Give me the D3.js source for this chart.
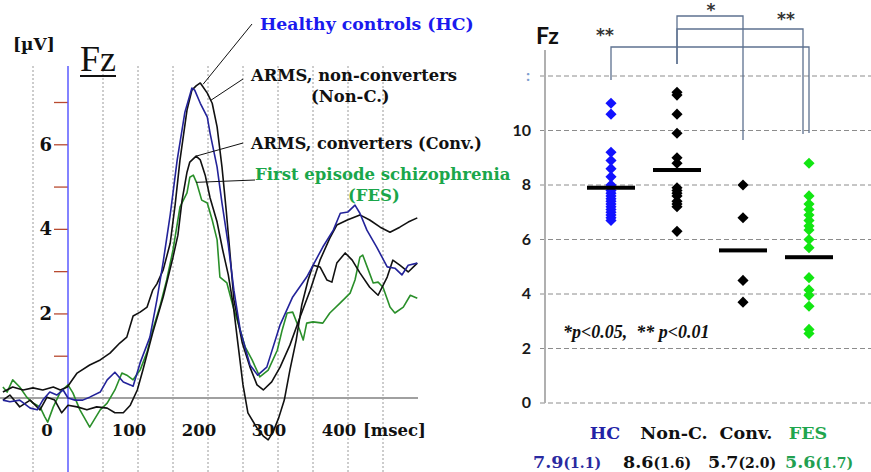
<!DOCTYPE html>
<html>
<head>
<meta charset="utf-8">
<script src="https://cdn.jsdelivr.net/npm/d3@7"></script>
<style>
  body { margin: 0; background: #fff; }
  svg { display: block; }
  .serif { font-family: "DejaVu Serif", serif; font-weight: bold; }
  .sans { font-family: Lato, "Open Sans", sans-serif; font-weight: bold; }
</style>
</head>
<body>
<svg id="chart" width="871" height="472"></svg>
<script>
// ---- left panel: grand-average waveforms at Fz, [time (ms), amplitude (µV)] ----
const hcWave = [
  [-93, -0.05], [-83, -0.09], [-69, -0.05], [-54, -0.24], [-44, -0.28], [-36, -0.05],
  [-26, 0.14], [-16, 0.07], [-7, 0.19], [0, 0.0], [10, -0.05], [21, -0.05], [31, 0.02],
  [46, 0.14], [56, 0.43], [67, 0.61], [79, 0.38], [89, 0.31], [93, 0.28], [103, 0.83],
  [117, 1.44], [127, 2.32], [136, 3.22], [146, 4.33], [156, 5.63], [167, 6.76], [177, 7.33],
  [181, 7.28], [189, 6.97], [199, 6.64], [203, 6.26], [213, 5.46], [220, 4.61], [229, 3.62],
  [237, 2.55], [246, 1.61], [260, 0.78], [271, 0.54], [284, 0.73], [303, 1.73], [321, 2.39],
  [341, 2.86], [364, 3.57], [379, 3.97], [389, 4.37], [400, 4.40], [410, 4.56], [417, 4.37],
  [427, 3.97], [441, 3.57], [456, 3.10], [467, 3.07], [477, 2.91], [486, 3.14], [499, 3.19]
];
const nonConvWave = [
  [-93, 0.14], [-79, 0.26], [-64, 0.19], [-50, 0.24], [-36, 0.19], [-21, 0.26], [-11, 0.19],
  [-1, 0.26], [13, 0.59], [31, 0.78], [46, 0.90], [60, 1.06], [74, 1.30], [84, 1.44],
  [93, 1.94], [103, 2.03], [113, 2.15], [121, 2.55], [127, 2.70], [136, 3.03], [146, 3.66],
  [153, 4.56], [160, 5.63], [170, 6.81], [177, 7.28], [183, 7.38], [189, 7.45], [199, 7.21],
  [206, 6.97], [213, 6.41], [220, 5.46], [226, 4.44], [231, 3.50], [237, 2.32], [249, 1.30],
  [260, 0.73], [270, 0.31], [279, 0.19], [291, 0.38], [303, 0.73], [317, 1.25], [331, 1.89],
  [346, 2.55], [360, 3.26], [374, 3.78], [384, 4.09], [399, 4.21], [417, 4.33], [431, 4.21],
  [446, 4.04], [460, 3.92], [474, 4.04], [486, 4.16], [499, 4.26]
];
const convWave = [
  [-93, -0.05], [-83, 0.07], [-69, -0.21], [-54, -0.05], [-40, -0.28], [-30, 0.02],
  [-19, -0.05], [-9, -0.35], [0, -0.17], [13, -0.21], [27, -0.28], [41, -0.21], [56, -0.24],
  [67, -0.35], [79, -0.35], [89, -0.17], [99, 0.19], [107, 0.66], [121, 1.54], [136, 2.39],
  [150, 3.33], [157, 3.85], [163, 4.68], [170, 5.34], [174, 5.58], [183, 5.72], [189, 5.63],
  [196, 5.27], [203, 4.73], [213, 4.16], [221, 3.50], [229, 2.91], [236, 2.20], [243, 1.25],
  [250, 0.31], [257, -0.35], [270, -0.71], [279, -0.90], [286, -0.99], [293, -0.80],
  [301, -0.47], [309, -0.05], [317, 0.66], [326, 1.37], [334, 2.20], [343, 2.79], [350, 3.14],
  [360, 3.10], [370, 2.79], [377, 2.74], [384, 3.19], [396, 3.43], [406, 3.26], [417, 2.96],
  [431, 2.62], [443, 2.43], [456, 2.86], [464, 3.26], [474, 3.14], [486, 2.98], [499, 3.19]
];
const fesWave = [
  [-93, 0.26], [-87, 0.14], [-79, 0.43], [-69, 0.26], [-59, 0.02], [-50, -0.12], [-40, -0.21],
  [-33, -0.45], [-29, -0.57], [-21, -0.21], [-11, 0.14], [0, 0.31], [7, 0.12], [17, -0.28],
  [31, -0.69], [46, -0.28], [56, -0.12], [67, 0.19], [77, 0.59], [84, 0.54], [93, 0.43],
  [103, 0.66], [113, 1.09], [121, 1.61], [131, 2.15], [141, 2.79], [150, 3.50], [160, 4.52],
  [170, 4.85], [174, 5.22], [179, 5.27], [184, 5.08], [191, 4.68], [199, 4.61], [206, 4.21],
  [213, 3.74], [217, 2.86], [227, 2.72], [236, 2.15], [246, 1.61], [253, 1.21], [263, 0.90],
  [274, 0.50], [286, 0.66], [299, 1.13], [306, 1.61], [313, 2.01], [321, 2.03], [331, 1.61],
  [336, 1.37], [341, 1.77], [350, 1.80], [364, 1.77], [374, 2.01], [389, 2.25], [403, 2.48],
  [410, 2.79], [417, 3.33], [421, 3.38], [429, 3.03], [436, 2.72], [443, 2.74], [450, 2.62],
  [460, 2.15], [467, 2.01], [479, 2.15], [489, 2.43], [499, 2.36]
];
const timeGrid = [-50, 50, 100, 150, 200, 250, 300, 350, 400, 450];
const timeLabels = [0, 100, 200, 300, 400];
const ampTicks = [1, 2, 3, 4, 5, 6, 7];
const ampLabels = [2, 4, 6];

// ---- right panel: individual amplitudes per group ----
const groups = ['HC', 'Non-C.', 'Conv.', 'FES'];
const hcPoints = [11.0, 10.6, 9.2, 8.9, 8.6, 8.3, 8.0, 7.8, 7.7, 7.6, 7.5, 7.4, 7.3, 7.2, 7.1, 7.0, 6.9, 6.8, 6.7];
const nonConvPoints = [11.4, 11.3, 10.6, 9.9, 9.0, 8.8, 7.9, 7.8, 7.7, 7.6, 7.4, 7.3, 7.2, 6.3];
const convPoints = [8.0, 6.8, 4.5, 3.7];
const fesPoints = [8.8, 7.6, 7.3, 7.1, 6.9, 6.7, 6.5, 6.35, 6.0, 5.7, 4.6, 4.15, 3.95, 3.55, 2.7, 2.55];
const meanBars = [7.9, 8.55, 5.6, 5.35];
const meanText = ['7.9', '8.6', '5.7', '5.6'];
const sdText = ['1.1', '1.6', '2.0', '1.7'];
const yTicksRight = [0, 2, 4, 6, 8, 10, 12];
const comparisons = [
  { a: 'HC', b: 'FES', label: '**' },
  { a: 'Non-C.', b: 'Conv.', label: '*' },
  { a: 'Non-C.', b: 'FES', label: '**' }
];

const svg = d3.select('#chart');

// ================= left panel =================
const x = d3.scaleLinear().domain([0, 500]).range([68, 418]);
const y = d3.scaleLinear().domain([0, 7]).range([398, 102]);

// dotted time grid
svg.append('g')
  .selectAll('line')
  .data(timeGrid)
  .join('line')
  .attr('x1', d => x(d)).attr('x2', d => x(d))
  .attr('y1', 66).attr('y2', 472)
  .attr('stroke', '#9a9a9a')
  .attr('stroke-width', 1)
  .attr('stroke-dasharray', '2,2');

// zero line
svg.append('line')
  .attr('x1', 0).attr('x2', x(500))
  .attr('y1', y(0)).attr('y2', y(0))
  .attr('stroke', '#a0a0a0')
  .attr('stroke-width', 2);

// amplitude axis: red ticks + blue onset line
const yAxis = d3.axisLeft(y).tickValues(ampTicks).tickSize(14).tickSizeOuter(0)
  .tickFormat(d => ampLabels.includes(d) ? d : '').tickPadding(2);
const gy = svg.append('g').attr('transform', `translate(${x(0)},0)`).call(yAxis);
gy.select('.domain').remove();
gy.selectAll('.tick line').attr('stroke', '#b84a30').attr('stroke-width', 1.3);
gy.selectAll('.tick text').attr('class', 'serif').attr('font-size', 18).attr('fill', '#111');

svg.append('line')
  .attr('x1', x(0)).attr('x2', x(0))
  .attr('y1', 66).attr('y2', 472)
  .attr('stroke', '#5a5aff')
  .attr('stroke-width', 1.5);

// time labels
svg.append('g')
  .selectAll('text')
  .data(timeLabels)
  .join('text')
  .attr('class', 'serif')
  .attr('font-size', 16.5)
  .attr('text-anchor', 'middle')
  .attr('x', d => x(d) + (d === 0 ? -21 : -9))
  .attr('y', 436)
  .attr('fill', '#111')
  .text(d => d);
svg.append('text').attr('class', 'serif').attr('font-size', 16.5)
  .attr('x', 363).attr('y', 436).attr('fill', '#111').text('[msec]');

svg.append('text').attr('class', 'serif').attr('font-size', 17)
  .attr('x', 13).attr('y', 50).attr('fill', '#111').text('[µV]');

svg.append('text')
  .attr('font-family', '"Liberation Serif", serif')
  .attr('font-size', 36)
  .attr('x', 80).attr('y', 71).attr('fill', '#111').text('Fz');
svg.append('line')
  .attr('x1', 80).attr('x2', 116).attr('y1', 76).attr('y2', 76)
  .attr('stroke', '#111').attr('stroke-width', 2);

// waveforms
const line = d3.line().x(d => x(d[0])).y(d => y(d[1]));
const waves = [
  { data: fesWave, color: '#2a8f2a' },
  { data: convWave, color: '#111' },
  { data: nonConvWave, color: '#111' },
  { data: hcWave, color: '#23239a' }
];
svg.append('g')
  .selectAll('path')
  .data(waves)
  .join('path')
  .attr('d', d => line(d.data))
  .attr('fill', 'none')
  .attr('stroke', d => d.color)
  .attr('stroke-width', 1.6)
  .attr('stroke-linejoin', 'round');

// legend labels with leader lines pointing at the curves
const legend = [
  { lines: ['Healthy controls (HC)'], size: 17.3, color: '#1a1aee', tx: 260, ty: 30, lx: 252, ly: 24, at: [193, 7.42] },
  { lines: ['ARMS, non-converters', '(Non-C.)'], size: 16.4, color: '#111', tx: 251, ty: 81, lx: 243, ly: 79, at: [204, 7.04], dx2: 60 },
  { lines: ['ARMS, converters (Conv.)'], size: 16.1, color: '#111', tx: 251, ty: 149, lx: 243, ly: 143, at: [183, 5.72] },
  { lines: ['First episode schizophrenia', '(FES)'], size: 16.5, color: '#1aa64a', tx: 255, ty: 180, lx: 255, ly: 180, at: [183, 5.1], dx2: 93 }
];
legend.forEach(d => {
  svg.append('line')
    .attr('x1', d.lx).attr('y1', d.ly)
    .attr('x2', x(d.at[0])).attr('y2', y(d.at[1]))
    .attr('stroke', '#111').attr('stroke-width', 1);
  d.lines.forEach((t, i) => {
    svg.append('text').attr('class', 'serif').attr('font-size', d.size)
      .attr('x', d.tx + (i ? d.dx2 : 0))
      .attr('y', d.ty + i * 21)
      .attr('fill', d.color)
      .text(t);
  });
});

// ================= right panel =================
const xR = d3.scalePoint().domain(groups).range([611, 809]);
const yR = d3.scaleLinear().domain([0, 12]).range([403, 76]);

svg.append('g')
  .selectAll('line')
  .data(yTicksRight)
  .join('line')
  .attr('x1', 540).attr('x2', 871)
  .attr('y1', d => yR(d)).attr('y2', d => yR(d))
  .attr('stroke', '#8c8c8c')
  .attr('stroke-dasharray', '5,3');

svg.append('line')
  .attr('x1', 545).attr('x2', 545).attr('y1', 50).attr('y2', yR(0))
  .attr('stroke', '#b0b0b0').attr('stroke-width', 2);

svg.append('g')
  .selectAll('text')
  .data(yTicksRight)
  .join('text')
  .attr('class', 'sans')
  .attr('font-size', 16)
  .attr('text-anchor', 'end')
  .attr('x', d => d === 12 ? 530 : 531)
  .attr('y', d => yR(d) + 5)
  .attr('fill', d => d === 12 ? '#7f9fd0' : '#1a1a1a')
  .text(d => d === 12 ? ':' : d);

svg.append('text').attr('class', 'sans').attr('font-size', 23)
  .attr('x', 536).attr('y', 44).attr('fill', '#111').text('Fz');

// significance brackets
const bracketLayout = [
  { top: 47, aEnd: 80, bEnd: 133, bdx: 0, lx: 605, ly: 41 },
  { top: 16, aEnd: 64, bEnd: 140, bdx: 0, lx: 711, ly: 16 },
  { top: 29, aEnd: 64, bEnd: 134, bdx: -6, lx: 786, ly: 25 }
];
comparisons.forEach((c, i) => {
  const L = bracketLayout[i];
  const xa = xR(c.a), xb = xR(c.b) + L.bdx;
  svg.append('path')
    .attr('d', `M${xa},${L.aEnd}V${L.top}H${xb}V${L.bEnd}`)
    .attr('fill', 'none')
    .attr('stroke', '#5d7190')
    .attr('stroke-width', 1.3);
  svg.append('text')
    .attr('font-family', '"DejaVu Sans", sans-serif')
    .attr('font-weight', 'bold')
    .attr('font-size', 17)
    .attr('text-anchor', 'middle')
    .attr('x', L.lx).attr('y', L.ly)
    .attr('fill', '#333')
    .text(c.label);
});

// individual values
const groupPoints = [
  { g: 'HC', v: hcPoints, color: '#1212ff' },
  { g: 'Non-C.', v: nonConvPoints, color: '#000' },
  { g: 'Conv.', v: convPoints, color: '#000' },
  { g: 'FES', v: fesPoints, color: '#12e612' }
];
const diamond = d3.symbol(d3.symbolSquare, 62);
groupPoints.forEach(gp => {
  svg.append('g')
    .selectAll('path')
    .data(gp.v)
    .join('path')
    .attr('d', diamond)
    .attr('transform', d => `translate(${xR(gp.g)},${yR(d)}) rotate(45)`)
    .attr('fill', gp.color);
});

// group means
svg.append('g')
  .selectAll('rect')
  .data(meanBars)
  .join('rect')
  .attr('x', (d, i) => xR(groups[i]) - 24)
  .attr('y', d => yR(d) - 2)
  .attr('width', 48)
  .attr('height', 4)
  .attr('fill', '#000');

svg.append('text').attr('font-family', '"Liberation Serif", serif')
  .attr('font-weight', 'bold').attr('font-style', 'italic').attr('font-size', 18)
  .attr('x', 563).attr('y', 338).attr('fill', '#111')
  .attr('xml:space', 'preserve')
  .text('*p<0.05,  ** p<0.01');

// group labels and mean (SD)
const labelColors = ['#2222a6', '#111', '#111', '#1fa64e'];
const statColors = ['#2a2aa0', '#111', '#111', '#22a050'];
const labelX = [605, 674, 746, 808];
const statX = [533, 623, 708, 785];
svg.append('g')
  .selectAll('text')
  .data(groups)
  .join('text')
  .attr('class', 'serif')
  .attr('font-size', 17.5)
  .attr('text-anchor', 'middle')
  .attr('x', (d, i) => labelX[i])
  .attr('y', 439)
  .attr('fill', (d, i) => labelColors[i])
  .text(d => d);

groups.forEach((g, i) => {
  const t = svg.append('text').attr('class', 'serif')
    .attr('x', statX[i]).attr('y', 468).attr('fill', statColors[i]);
  t.append('tspan').attr('font-size', 17.5).text(meanText[i]);
  t.append('tspan').attr('font-size', 14).text(`(${sdText[i]})`);
});
</script>
</body>
</html>
